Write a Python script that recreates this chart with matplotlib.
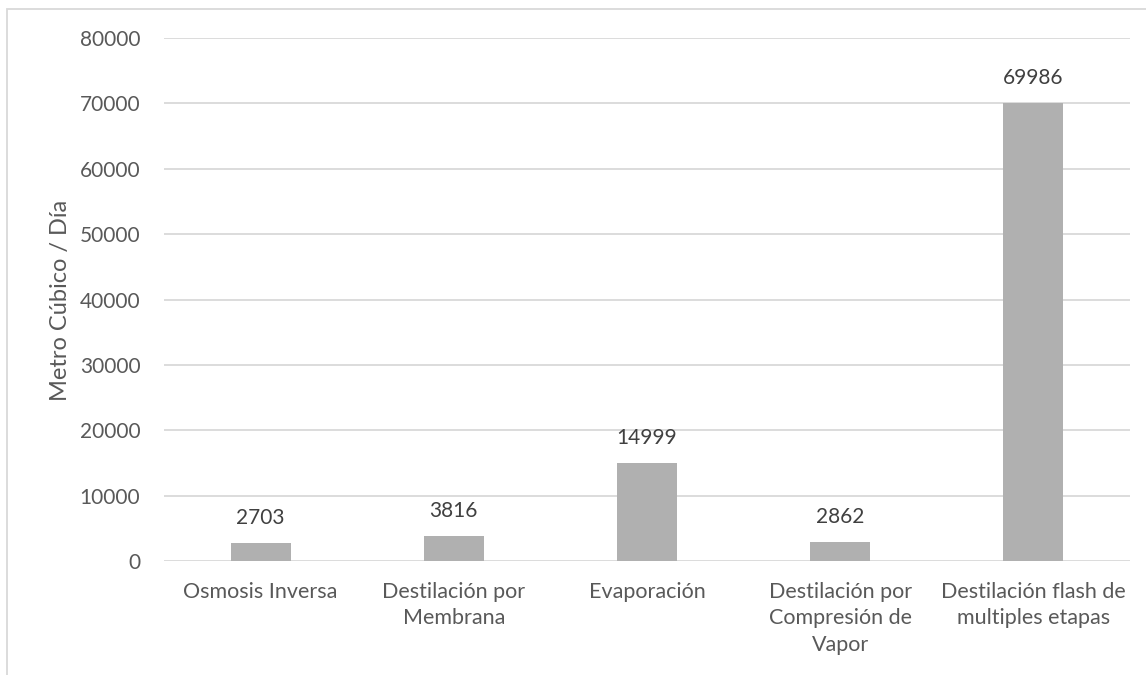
import matplotlib.pyplot as plt
from matplotlib.patches import Rectangle

categories = [
    "Osmosis Inversa",
    "Destilación por\nMembrana",
    "Evaporación",
    "Destilación por\nCompresión de\nVapor",
    "Destilación flash de\nmultiples etapas",
]
values = [2703, 3816, 14999, 2862, 69986]
y_ticks = [0, 10000, 20000, 30000, 40000, 50000, 60000, 70000, 80000]

plt.rcParams["font.family"] = ["Lato", "DejaVu Sans"]

fig = plt.figure(figsize=(11.46, 6.75), dpi=100)
ax = fig.add_axes([164 / 1146, 1 - 561 / 675, (1130 - 164) / 1146, (561 - 38) / 675])

x = range(len(categories))
bars = ax.bar(x, values, width=0.31, color="#B0B0B0", zorder=3)
for b, v in zip(bars, values):
    ax.annotate(str(v), (b.get_x() + b.get_width() / 2, v),
                xytext=(0, 18), textcoords="offset points",
                ha="center", va="center", fontsize=15, color="#404040")

ax.set_xlim(-0.5, len(categories) - 0.5)
ax.set_ylim(0, 80000)
ax.set_yticks(y_ticks)
ax.set_yticklabels([str(t) for t in y_ticks], fontsize=15, color="#595959")
ax.set_xticks(list(x))
ax.set_xticklabels(categories, fontsize=15.5, color="#595959", linespacing=1.4, va="top")
ax.tick_params(axis="both", length=0)
ax.tick_params(axis="y", pad=17)
ax.tick_params(axis="x", pad=15)

ax.grid(axis="y", color="#D9D9D9", linewidth=1.3, zorder=0)
for side in ["top", "right", "left", "bottom"]:
    ax.spines[side].set_visible(False)

fig.text(61 / 1146, 1 - 300 / 675, "Metro Cúbico / Día", rotation=90,
         ha="center", va="center", fontsize=17, color="#595959")

# chart area border
fig.patches.append(Rectangle((7 / 1146, -0.1), 1.2, 1 - 9 / 675 + 0.1,
                             transform=fig.transFigure, fill=False,
                             edgecolor="#D9D9D9", linewidth=1.3))

fig.savefig("out.png", dpi=100)
